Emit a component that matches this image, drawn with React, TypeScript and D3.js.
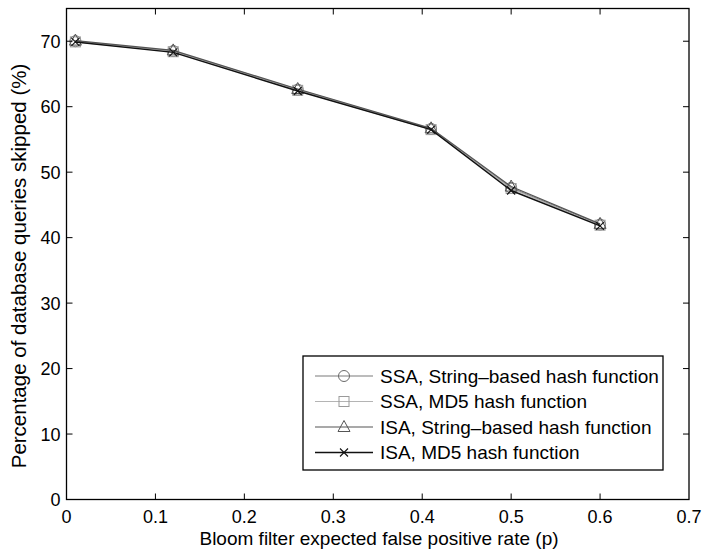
import React from "react";
import * as d3 from "d3";

const xValues = [0.01, 0.12, 0.26, 0.41, 0.5, 0.6];
const ssaString = [70.0, 68.5, 62.6, 56.6, 47.6, 42.0];
const ssaMd5 = [69.9, 68.4, 62.5, 56.5, 47.5, 41.9];
const isaString = [70.1, 68.6, 62.7, 56.7, 47.8, 42.1];
const isaMd5 = [69.9, 68.3, 62.4, 56.5, 47.2, 41.8];
const seriesNames = [
  "SSA, String\u2013based hash function",
  "SSA, MD5 hash function",
  "ISA, String\u2013based hash function",
  "ISA, MD5 hash function",
];
const xTicks = [0, 0.1, 0.2, 0.3, 0.4, 0.5, 0.6, 0.7];
const yTicks = [0, 10, 20, 30, 40, 50, 60, 70];

const W = 704, H = 550;
const L = 66.5, R = 689, T = 8.5, B = 499.5;
const FONT = "Liberation Sans, Arial, Helvetica, sans-serif";

type Series = { name: string; values: number[]; color: string; marker: string; markerColor: string; width: number };

const series: Series[] = [
  { name: seriesNames[0], values: ssaString, color: "#7a7a7a", marker: "circle", markerColor: "#6a6a6a", width: 1.2 },
  { name: seriesNames[1], values: ssaMd5, color: "#b4b4b4", marker: "square", markerColor: "#9a9a9a", width: 1.2 },
  { name: seriesNames[2], values: isaString, color: "#555555", marker: "triangle", markerColor: "#555555", width: 1.2 },
  { name: seriesNames[3], values: isaMd5, color: "#111111", marker: "x", markerColor: "#111111", width: 1.5 },
];

function Marker({ kind, x, y, color }: { kind: string; x: number; y: number; color: string }) {
  const s = 5.5;
  if (kind === "circle") return <circle cx={x} cy={y} r={s} fill="none" stroke={color} strokeWidth={1} />;
  if (kind === "square") return <rect x={x - s + 0.5} y={y - s + 0.5} width={2 * s - 1} height={2 * s - 1} fill="none" stroke={color} strokeWidth={1} />;
  if (kind === "triangle")
    return <path d={`M${x},${y - s - 1}L${x + s + 0.5},${y + s - 1}L${x - s - 0.5},${y + s - 1}Z`} fill="none" stroke={color} strokeWidth={1} />;
  const k = 4;
  return <path d={`M${x - k},${y - k}L${x + k},${y + k}M${x - k},${y + k}L${x + k},${y - k}`} stroke={color} strokeWidth={1.1} />;
}

export default function App() {
  const x = d3.scaleLinear().domain([0, 0.7]).range([L, R]);
  const y = d3.scaleLinear().domain([0, 75]).range([B, T]);
  const line = d3.line<number>().x((_, i) => x(xValues[i])).y((d) => y(d));
  const tick = 6;

  const legX = 303, legY = 356, legW = 360, legH = 114;
  const rowY = (i: number) => legY + 20 + i * 25.5;

  return (
    <svg width={W} height={H} style={{ position: "absolute", left: 0, top: 0, background: "#fff" }} fontFamily={FONT}>
      <rect x={0} y={0} width={W} height={H} fill="#fff" />
      {series.map((s, si) => (
        <g key={si}>
          <path d={line(s.values) || ""} fill="none" stroke={s.color} strokeWidth={s.width} />
          {s.values.map((v, i) => (
            <Marker key={i} kind={s.marker} x={x(xValues[i])} y={y(v)} color={s.markerColor} />
          ))}
        </g>
      ))}
      <rect x={L} y={T} width={R - L} height={B - T} fill="none" stroke="#000" strokeWidth={1.3} />
      {xTicks.map((t, i) => (
        <g key={"xt" + i}>
          {i > 0 && i < xTicks.length - 1 && (
            <>
              <line x1={x(t)} x2={x(t)} y1={B} y2={B - tick} stroke="#000" strokeWidth={1} />
              <line x1={x(t)} x2={x(t)} y1={T} y2={T + tick} stroke="#000" strokeWidth={1} />
            </>
          )}
          <text x={x(t)} y={B + 23.5} textAnchor="middle" fontSize={18} fill="#000">
            {t === 0 ? "0" : d3.format(".1f")(t)}
          </text>
        </g>
      ))}
      {yTicks.map((t, i) => (
        <g key={"yt" + i}>
          {i > 0 && (
            <>
              <line x1={L} x2={L + tick} y1={y(t)} y2={y(t)} stroke="#000" strokeWidth={1} />
              <line x1={R} x2={R - tick} y1={y(t)} y2={y(t)} stroke="#000" strokeWidth={1} />
            </>
          )}
          <text x={L - 6} y={y(t) + 6.5} textAnchor="end" fontSize={18} fill="#000">
            {t}
          </text>
        </g>
      ))}
      <text x={379} y={545} textAnchor="middle" fontSize={19} fill="#000">
        Bloom filter expected false positive rate (p)
      </text>
      <text transform={`translate(26,266) rotate(-90)`} textAnchor="middle" fontSize={20.5} fill="#000">
        Percentage of database queries skipped (%)
      </text>
      <rect x={legX} y={legY} width={legW} height={legH} fill="#fff" stroke="#000" strokeWidth={1.3} />
      {series.map((s, i) => (
        <g key={"lg" + i}>
          <line x1={315} x2={373} y1={rowY(i)} y2={rowY(i)} stroke={s.color} strokeWidth={s.width} />
          <Marker kind={s.marker} x={344} y={rowY(i)} color={s.markerColor} />
          <text x={380} y={rowY(i) + 6.5} fontSize={19} fill="#000">
            {s.name}
          </text>
        </g>
      ))}
    </svg>
  );
}
